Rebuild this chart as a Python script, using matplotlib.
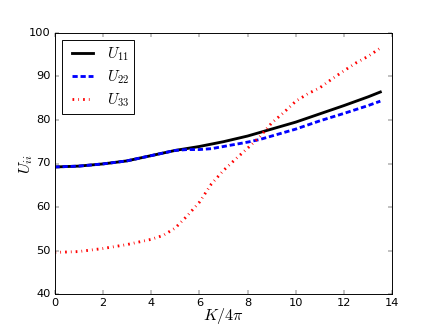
import matplotlib
matplotlib.use("Agg")
import matplotlib.pyplot as plt

plt.style.use("classic")

x11 = [0, 1, 2, 3, 4, 5, 6, 7, 8, 9, 10, 11, 12, 13, 13.5]
u11 = [69.2, 69.4, 69.9, 70.6, 71.8, 73.0, 73.9, 75.0, 76.3, 77.9, 79.5, 81.4, 83.3, 85.3, 86.4]

x22 = [0, 1, 2, 3, 4, 5, 5.5, 6, 6.5, 7, 7.5, 8, 8.5, 9, 10, 11, 12, 13, 13.5]
u22 = [69.2, 69.4, 69.9, 70.6, 71.8, 73.0, 73.2, 73.2, 73.4, 73.9, 74.4, 74.9, 75.5, 76.3,
       77.9, 79.8, 81.5, 83.3, 84.3]

x33 = [0, 1, 2, 3, 4, 4.5, 5, 5.5, 6, 6.5, 7, 7.5, 8, 8.5, 9, 9.5, 10, 10.5, 11, 11.5,
       12, 12.5, 13, 13.45]
u33 = [49.6, 49.8, 50.5, 51.4, 52.6, 53.5, 55.2, 58.0, 61.1, 65.3, 68.4, 71.0, 73.5, 76.1,
       79.3, 81.7, 84.3, 86.0, 87.4, 89.4, 91.3, 93.1, 94.6, 96.3]

labels = [r"$U_{11}$", r"$U_{22}$", r"$U_{33}$"]

fig = plt.figure(figsize=(6.4, 4.8), dpi=68.125)
ax = fig.add_subplot(111)
ax.plot(x11, u11, color="k", lw=3, label=labels[0])
ax.plot(x22, u22, color="b", lw=3, ls=(0, (5.5, 3)), label=labels[1])
ax.plot(x33, u33, color="r", lw=3, ls=(0, (1.8, 4.3, 0.8, 4.3)), label=labels[2])

ax.set_xlim(0, 14)
ax.set_ylim(40, 100)
ax.set_xticks(range(0, 15, 2))
ax.set_yticks(range(40, 101, 10))
ax.set_xlabel(r"$K/4\pi$", fontsize=17, labelpad=-2)
ax.set_ylabel(r"$U_{ii}$", fontsize=17, labelpad=-6)
ax.legend(loc="upper left", fontsize=16, handlelength=2.0, labelspacing=0.35,
          handletextpad=0.6, borderpad=0.35)

fig.savefig("out.png", dpi=68.125)
